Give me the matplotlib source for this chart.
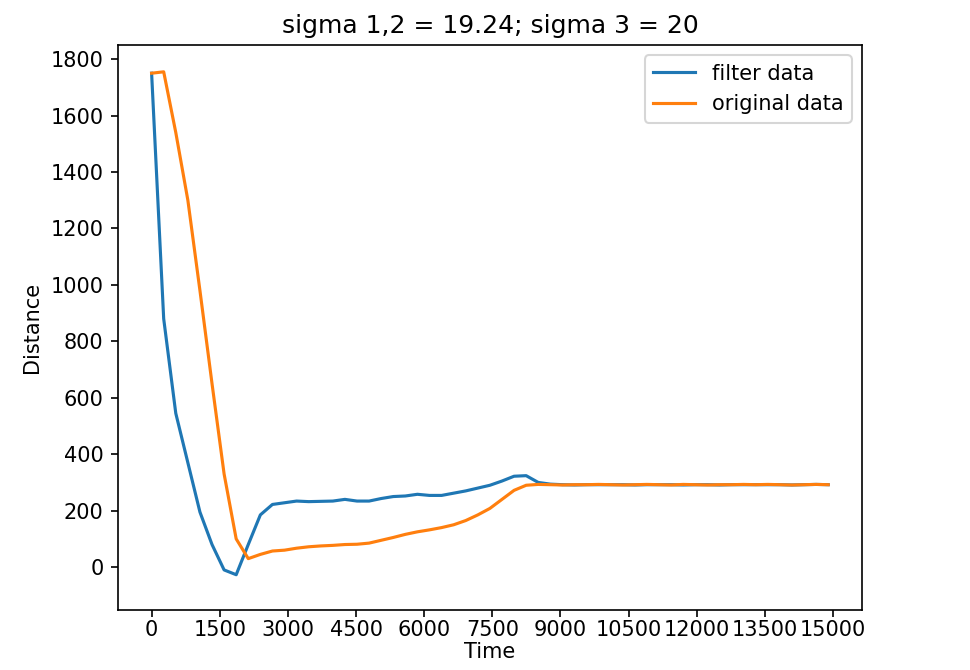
import matplotlib
matplotlib.use('Agg')
import matplotlib.pyplot as plt

# time stamps (ms) of each sample
time = [0, 266, 532, 798, 1064, 1330, 1596, 1862, 2128, 2394,
        2660, 2926, 3192, 3458, 3724, 3990, 4256, 4522, 4788, 5054,
        5320, 5586, 5852, 6118, 6384, 6650, 6916, 7182, 7448, 7714,
        7980, 8246, 8512, 8778, 9044, 9310, 9576, 9842, 10108, 10374,
        10640, 10906, 11172, 11438, 11704, 11970, 12236, 12502, 12768, 13034,
        13300, 13566, 13832, 14098, 14364, 14630, 14896]

filter_data = [1750, 880, 545, 370, 195, 80, -10, -27, 80, 185,
               222, 228, 234, 232, 233, 234, 240, 234, 234, 243,
               250, 252, 258, 254, 254, 262, 270, 280, 290, 305,
               322, 324, 300, 294, 292, 291, 292, 292, 292, 292,
               291, 292, 292, 292, 291, 292, 292, 291, 292, 292,
               292, 292, 292, 291, 292, 293, 292]

original_data = [1750, 1755, 1540, 1300, 980, 650, 330, 100, 30, 45,
                 57, 60, 67, 72, 75, 77, 80, 81, 85, 95,
                 105, 116, 125, 132, 140, 150, 165, 185, 208, 240,
                 272, 290, 293, 292, 291, 292, 292, 293, 292, 291,
                 292, 293, 292, 291, 293, 292, 291, 292, 292, 293,
                 292, 293, 292, 291, 292, 293, 292]

x_ticks = [0, 1500, 3000, 4500, 6000, 7500, 9000, 10500, 12000, 13500, 15000]
y_ticks = [0, 200, 400, 600, 800, 1000, 1200, 1400, 1600, 1800]

fig = plt.figure(figsize=(970 / 150, 670 / 150), dpi=150)
ax = fig.add_axes([118 / 970, 60 / 670, 744 / 970, 565 / 670])

ax.plot(time, filter_data, label='filter data')
ax.plot(time, original_data, label='original data')

ax.set_xticks(x_ticks)
ax.set_yticks(y_ticks)
ax.set_xlim(-740, 15640)
ax.set_ylim(-152, 1850)
# screenshot is a bit squeezed vertically, so pull the x texts up
ax.tick_params(axis='x', pad=1.5)

ax.set_title('sigma 1,2 = 19.24; sigma 3 = 20')
ax.set_xlabel('Time', labelpad=1)
ax.set_ylabel('Distance')
ax.legend(loc='upper right')

fig.savefig('out.png', dpi=150)
